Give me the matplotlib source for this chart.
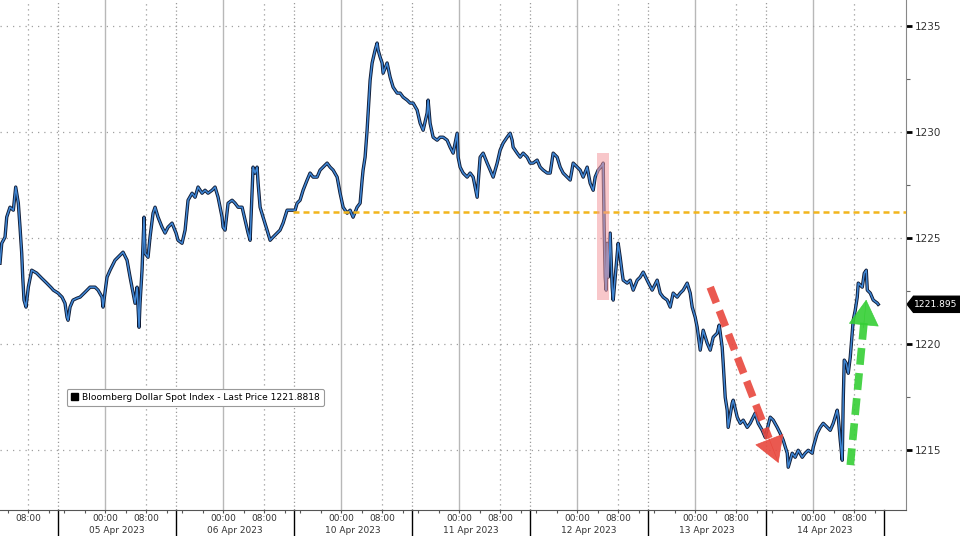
import matplotlib
matplotlib.use("Agg")
import matplotlib.pyplot as plt
import matplotlib.transforms as mtransforms
from matplotlib.patches import Rectangle, Polygon

# time axis: hours from start of the 05 Apr session, each session is 23h on the chart
SESSION = 23.0
MIDNIGHT = 9.2
EIGHT = 17.2

days = ["05 Apr 2023", "06 Apr 2023", "10 Apr 2023", "11 Apr 2023",
        "12 Apr 2023", "13 Apr 2023", "14 Apr 2023"]

t04 = [-11.31, -10.97, -10.33, -10.0, -9.36, -8.71, -8.25, -7.74, -7.41, -7.08, -6.88, -6.63,
       -6.24, -5.79, -5.13, -4.15, -3.18, -2.2, -1.23, -0.92]
p04 = [1223.82, 1224.76, 1225.05, 1225.99, 1226.46, 1226.32, 1227.41, 1226.65, 1225.52, 1224.29,
       1223.16, 1222.08, 1221.75, 1222.69, 1223.49, 1223.35, 1223.11, 1222.88, 1222.64, 1222.55]

t05 = [0.0, 0.78, 1.36, 1.75, 1.95, 2.34, 2.92, 3.7, 4.29, 5.26, 6.24, 7.21, 7.8, 8.58, 8.77,
       9.55, 10.14, 11.11, 12.09, 12.67, 13.45, 14.04, 14.62, 15.01, 15.4, 15.59, 15.79, 15.98,
       16.37, 16.76, 16.96, 17.54, 17.93, 18.52, 18.91, 19.49, 20.27, 20.86, 21.44, 22.22]
p05 = [1222.41, 1222.22, 1221.93, 1221.27, 1221.13, 1221.75, 1222.08, 1222.17, 1222.22, 1222.45,
       1222.69, 1222.69, 1222.55, 1222.22, 1221.75, 1223.16, 1223.49, 1223.96, 1224.2, 1224.34,
       1223.96, 1223.16, 1222.41, 1221.93, 1222.69, 1221.75, 1220.8, 1221.93, 1223.49, 1225.99,
       1224.29, 1224.1, 1225.05, 1226.18, 1226.46, 1225.99, 1225.52, 1225.24, 1225.52, 1225.71]

t06 = [23.0, 23.39, 24.17, 24.76, 25.34, 26.12, 26.71, 27.29, 28.07, 28.65, 29.24, 30.02, 30.6,
       31.19, 31.97, 32.16, 32.55, 33.14, 33.92, 34.5, 35.09, 35.87, 36.45, 37.04, 37.43, 37.82,
       38.01, 38.4, 38.79, 38.99, 39.38, 39.96, 40.74, 41.33, 41.91, 42.69, 43.27, 43.86, 44.64, 45.22]
p06 = [1225.24, 1224.9, 1224.76, 1225.38, 1226.79, 1227.12, 1226.93, 1227.41, 1227.12, 1227.26,
       1227.12, 1227.26, 1227.41, 1226.93, 1225.99, 1225.52, 1225.38, 1226.65, 1226.79, 1226.65,
       1226.46, 1226.46, 1225.85, 1225.24, 1224.9, 1227.26, 1228.35, 1228.07, 1228.35, 1227.59,
       1226.46, 1225.99, 1225.38, 1224.9, 1225.05, 1225.24, 1225.38, 1225.71, 1226.32, 1226.32]

t10 = [46.2, 46.59, 47.17, 47.76, 48.54, 49.12, 49.71, 50.49, 51.07, 51.66, 52.44, 53.02, 53.61,
       54.39, 54.97, 55.56, 56.34, 56.92, 57.5, 58.28, 58.87, 59.26, 59.45, 59.84, 60.23, 60.43,
       60.82, 61.21, 61.79, 62.18, 62.38, 62.77, 63.16, 63.35, 64.13, 64.72, 65.3, 66.08, 66.67,
       67.25, 68.03, 68.62]
p10 = [1226.32, 1226.65, 1226.79, 1227.26, 1227.74, 1228.07, 1227.88, 1227.88, 1228.21, 1228.35,
       1228.54, 1228.35, 1228.21, 1227.88, 1227.12, 1226.46, 1226.18, 1226.32, 1225.99, 1226.46,
       1226.65, 1227.74, 1228.21, 1228.82, 1230.09, 1230.9, 1232.45, 1233.26, 1233.87, 1234.2,
       1233.87, 1233.54, 1233.26, 1232.78, 1233.26, 1232.59, 1232.12, 1231.84, 1231.84, 1231.65,
       1231.51, 1231.37]

t11 = [69.2, 69.98, 70.57, 71.15, 71.93, 72.12, 72.51, 73.1, 73.88, 74.46, 75.05, 75.83, 76.41,
       77.0, 77.78, 77.97, 78.36, 78.95, 79.73, 80.31, 80.9, 81.68, 81.87, 82.26, 82.85, 83.63,
       84.21, 84.8, 85.58, 86.16, 86.74, 87.52, 88.11, 88.5, 88.69, 89.47, 90.06, 90.64, 91.42]
p11 = [1231.37, 1231.04, 1230.42, 1230.09, 1230.9, 1231.51, 1230.42, 1229.76, 1229.62, 1229.76,
       1229.76, 1229.62, 1229.29, 1229.01, 1229.95, 1228.82, 1228.35, 1228.07, 1227.88, 1228.07,
       1227.88, 1226.93, 1227.59, 1228.82, 1229.01, 1228.54, 1228.21, 1227.88, 1228.54, 1229.15,
       1229.48, 1229.76, 1229.95, 1229.62, 1229.29, 1229.01, 1228.82, 1229.01, 1228.82]

t12 = [92.01, 92.59, 93.37, 93.96, 94.54, 95.32, 95.91, 96.49, 97.27, 97.86, 98.44, 99.22, 99.81,
       100.39, 101.17, 101.75, 102.34, 103.12, 103.7, 104.29, 104.68, 105.26, 106.04, 106.24,
       106.43, 106.63, 106.82, 107.02, 107.21, 107.6, 107.99, 108.19, 108.58, 108.97, 109.16,
       109.55, 109.94, 110.14, 110.92, 111.5, 112.09, 112.87, 113.45, 114.04]
p12 = [1228.54, 1228.54, 1228.68, 1228.35, 1228.21, 1228.07, 1228.07, 1229.01, 1228.82, 1228.35,
       1228.07, 1227.88, 1227.74, 1228.54, 1228.35, 1228.21, 1227.88, 1228.35, 1227.59, 1227.26,
       1227.88, 1228.21, 1228.44, 1228.54, 1225.52, 1223.16, 1222.55, 1224.76, 1223.16, 1225.24,
       1222.69, 1222.08, 1223.16, 1224.29, 1224.76, 1224.1, 1223.35, 1223.02, 1222.88, 1223.02,
       1222.55, 1223.02, 1223.16, 1223.4]

t13 = [115.01, 115.79, 116.76, 117.35, 117.93, 118.71, 119.3, 119.88, 120.66, 121.25, 121.83,
       122.61, 123.2, 123.59, 124.17, 124.56, 125.15, 125.73, 126.51, 127.1, 127.68, 128.46,
       128.85, 129.43, 129.63, 130.02, 130.41, 130.6, 131.38, 131.58, 132.36, 132.94, 133.53,
       134.31, 134.89, 135.87, 136.45, 137.23, 137.82]
p13 = [1222.92, 1222.55, 1223.02, 1222.41, 1222.22, 1222.08, 1221.75, 1222.41, 1222.22, 1222.41,
       1222.55, 1222.88, 1222.41, 1221.75, 1221.27, 1220.8, 1219.72, 1220.66, 1220.05, 1219.72,
       1220.33, 1220.52, 1220.9, 1219.86, 1219.1, 1217.5, 1216.89, 1216.08, 1217.22, 1217.36,
       1216.56, 1216.27, 1216.42, 1216.08, 1216.27, 1216.75, 1216.27, 1215.94, 1215.61]

t14 = [138.79, 139.38, 140.16, 140.74, 141.33, 142.11, 142.3, 143.08, 143.66, 144.25, 145.03,
       145.61, 146.2, 146.98, 147.17, 147.95, 148.54, 149.12, 149.9, 150.49, 151.07, 151.85,
       152.05, 152.44, 152.83, 153.02, 153.22, 153.61, 154.0, 154.39, 154.78, 154.97, 155.36,
       155.75, 155.95, 156.73, 157.12, 157.51, 157.71, 158.29, 158.87, 159.65, 159.84]
p14 = [1216.56, 1216.42, 1216.08, 1215.8, 1215.47, 1214.86, 1214.2, 1214.86, 1214.67, 1215.0,
       1214.67, 1214.86, 1215.0, 1214.86, 1215.14, 1215.8, 1216.08, 1216.27, 1216.08, 1215.94,
       1216.27, 1216.89, 1216.56, 1215.47, 1214.53, 1217.36, 1219.25, 1219.1, 1218.63, 1219.39,
       1220.52, 1221.13, 1221.6, 1222.22, 1222.88, 1222.69, 1223.35, 1223.49, 1222.55, 1222.41,
       1222.08, 1221.94, 1221.88]

hours = t04 + t05 + t06 + t10 + t11 + t12 + t13 + t14
price = p04 + p05 + p06 + p10 + p11 + p12 + p13 + p14

ref_level = 1226.25          # 10 Apr open, yellow line
ref_start = 45.8
last_price = 1221.8818
last_label = "1221.895"
cpi_span = (105.07, 107.4, 1222.08, 1229.01)   # pink box around the release
red_arrow = ((127.1, 1222.69), (140.4, 1214.4))
green_arrow = ((154.4, 1214.3), (157.5, 1222.1))

xmin, xmax = -11.31, 165.3
ymin, ymax = 1212.17, 1236.23

fig = plt.figure(figsize=(9.6, 5.36), dpi=100)
ax = fig.add_axes([0, 0.048, 0.944, 0.952])
ax.set_xlim(xmin, xmax)
ax.set_ylim(ymin, ymax)

# grid: solid grey at 00:00, dotted at 08:00 and at session breaks
for k in range(-1, 8):
    s = k * SESSION
    if xmin < s + MIDNIGHT < xmax:
        ax.axvline(s + MIDNIGHT, color="#b8b8b8", lw=1.0, zorder=0)
    if xmin < s + EIGHT < xmax:
        ax.axvline(s + EIGHT, color="#9a9a9a", lw=0.9, ls=(0, (1, 3)), zorder=0)
    if 0 <= k <= 6:
        ax.axvline(s, color="#9a9a9a", lw=0.9, ls=(0, (1, 2)), zorder=0)
for y in [1215, 1220, 1225, 1230, 1235]:
    ax.axhline(y, color="#a0a0a0", lw=0.9, ls=(0, (1, 4)), zorder=0)

ax.plot(hours, price, color="#0f1a33", lw=2.4, zorder=2)
ax.plot(hours, price, color="#3f86d4", lw=1.1, zorder=2)

ax.plot([ref_start, xmax], [ref_level, ref_level], color="#f2b51c", lw=1.8,
        ls=(0, (2.4, 1.6)), zorder=3)

x0, x1, y0, y1 = cpi_span
ax.add_patch(Rectangle((x0, y0), x1 - x0, y1 - y0, fc="#f39aa0", ec="none",
                       alpha=0.55, zorder=4))

# dashed trend arrows: dashed shaft + solid head
for (start, tip), col in [(red_arrow, "#e8473d"), (green_arrow, "#35cf35")]:
    (sx, sy), (tx, ty) = start, tip
    f = 0.86
    mx, my = sx + (tx - sx) * f, sy + (ty - sy) * f
    ax.plot([sx, mx], [sy, my], color=col, lw=5.5, ls=(0, (2.2, 1.1)),
            solid_capstyle="butt", alpha=0.9, zorder=5)
    hx, hy = sx + (tx - sx) * 0.83, sy + (ty - sy) * 0.83
    ax.annotate("", xy=tip, xytext=(hx, hy),
                arrowprops=dict(arrowstyle="-|>,head_length=1.1,head_width=0.65",
                                fc=col, ec=col, lw=0.5, shrinkA=0, shrinkB=0,
                                mutation_scale=16, alpha=0.9),
                zorder=5)

# legend
leg = ax.legend([Rectangle((0, 0), 1, 1, fc="black", ec="black")],
                ["Bloomberg Dollar Spot Index - Last Price 1221.8818"],
                loc="upper left", bbox_to_anchor=(62 / 906, 1 - 384 / 510),
                fontsize=6.6, frameon=True, fancybox=True, edgecolor="#999999",
                handlelength=0.8, handleheight=0.8, handletextpad=0.4,
                borderpad=0.45, framealpha=1)
leg.get_frame().set_linewidth(0.8)

# y axis on the right
ax.yaxis.tick_right()
ax.set_yticks([1215, 1220, 1225, 1230, 1235])
ax.set_yticks([1217.5, 1222.5, 1227.5, 1232.5], minor=True)
ax.tick_params(axis="y", which="major", length=4, width=2, color="black",
               labelsize=7.5, labelcolor="#333333", pad=2)
ax.tick_params(axis="y", which="minor", length=3, width=0.8, color="#666666")

# x axis
major, labels, minor = [], [], []
for k in range(-1, 7):
    s = k * SESSION
    for off, lab in [(MIDNIGHT, "00:00"), (EIGHT, "08:00")]:
        if xmin < s + off < xmax:
            major.append(s + off)
            labels.append(lab)
    for off in [MIDNIGHT - 8, MIDNIGHT - 4, MIDNIGHT + 4, EIGHT + 4]:
        if xmin < s + off < xmax:
            minor.append(s + off)
ax.set_xticks(major)
ax.set_xticklabels(labels)
ax.set_xticks(minor, minor=True)
ax.tick_params(axis="x", which="major", length=2, width=0.8, color="#555555",
               labelsize=6.5, labelcolor="#333333", pad=0.5)
ax.tick_params(axis="x", which="minor", length=2, width=0.8, color="#555555")

trans = mtransforms.blended_transform_factory(ax.transData, ax.transAxes)
for k, d in enumerate(days):
    ax.text(k * SESSION + 11.5, -0.04, d, transform=trans, ha="center", va="center",
            fontsize=6.5, color="#333333")
    ax.plot([k * SESSION, k * SESSION], [0, -0.06], transform=trans, color="black",
            lw=1.0, clip_on=False)
ax.plot([7 * SESSION, 7 * SESSION], [0, -0.06], transform=trans, color="black",
        lw=1.0, clip_on=False)

for side in ["top", "left"]:
    ax.spines[side].set_visible(False)
ax.spines["right"].set_color("#888888")
ax.spines["bottom"].set_color("#555555")

# last price tag
ytrans = mtransforms.blended_transform_factory(ax.transAxes, ax.transData)
h = 0.38
ax.add_patch(Polygon([(1.001, last_price), (1.008, last_price + h), (1.07, last_price + h),
                      (1.07, last_price - h), (1.008, last_price - h)],
                     closed=True, fc="black", ec="black", transform=ytrans, clip_on=False))
ax.text(1.0085, last_price, last_label, transform=ytrans, color="white", fontsize=6.6,
        va="center", ha="left")

fig.savefig("out.png", dpi=100)
